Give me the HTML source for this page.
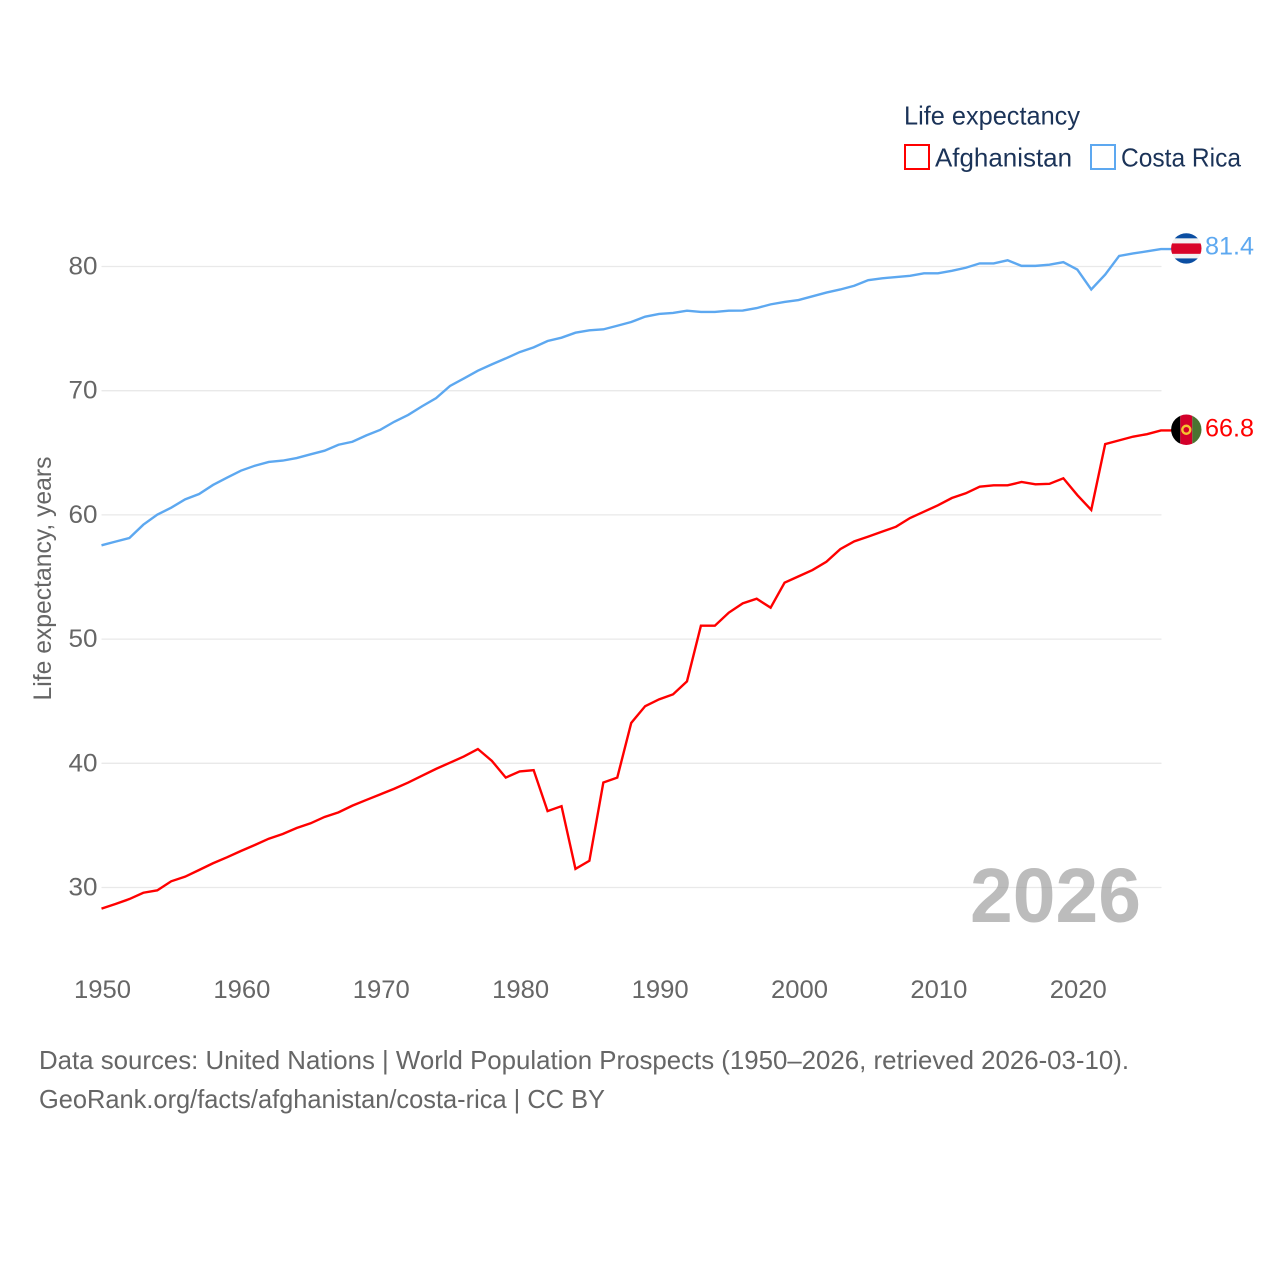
<!DOCTYPE html>
<html lang="en">
<head>
<meta charset="utf-8">
<title>Life expectancy: Afghanistan and Costa Rica</title>
<style>
html,body{margin:0;padding:0;background:#fff;}
svg{display:block;}
text{font-family:"Liberation Sans",sans-serif;}
</style>
</head>
<body>
<svg id="chart" xmlns="http://www.w3.org/2000/svg" width="1280" height="1280" viewBox="0 0 1280 1280">
  <rect x="0" y="0" width="1280" height="1280" fill="#ffffff"/>
  <defs>
    <clipPath id="flag-clip"><circle cx="0" cy="0" r="15.2"/></clipPath>
  </defs>
  <g id="grid"></g>
  <g id="yticks"></g>
  <g id="xticks"></g>
  <text transform="translate(51,578.5) rotate(-90)" text-anchor="middle" font-size="25" fill="#666666" textLength="244" lengthAdjust="spacingAndGlyphs">Life expectancy, years</text>
  <text x="970" y="922" font-size="77" font-weight="700" fill="#999999" opacity="0.65" textLength="171" lengthAdjust="spacingAndGlyphs">2026</text>
  <g id="series"></g>
  <g>
    <text x="904" y="124.5" font-size="26" fill="#1b3358" textLength="176" lengthAdjust="spacingAndGlyphs">Life expectancy</text>
    <rect x="905" y="145" width="24" height="24" fill="none" stroke="#ff0000" stroke-width="2"/>
    <text x="935" y="166.5" font-size="26" fill="#1b3358" textLength="137" lengthAdjust="spacingAndGlyphs">Afghanistan</text>
    <rect x="1091" y="145" width="24" height="24" fill="none" stroke="#5da8f0" stroke-width="2"/>
    <text x="1121" y="166.5" font-size="26" fill="#1b3358" textLength="120" lengthAdjust="spacingAndGlyphs">Costa Rica</text>
  </g>
  <g>
    <text x="39" y="1069" font-size="26" fill="#666666" textLength="1090" lengthAdjust="spacingAndGlyphs">Data sources: United Nations | World Population Prospects (1950–2026, retrieved 2026-03-10).</text>
    <text x="39" y="1108" font-size="26" fill="#666666" textLength="566" lengthAdjust="spacingAndGlyphs">GeoRank.org/facts/afghanistan/costa-rica | CC BY</text>
  </g>
</svg>
<script>
const firstYear = 1950;
const lastYear = 2026;
const xTickLabels = [1950, 1960, 1970, 1980, 1990, 2000, 2010, 2020];
const yTickLabels = [30, 40, 50, 60, 70, 80];
const afghanistanValues = [
  28.3,28.67,29.07,29.58,29.77,30.5,30.87,31.41,31.95,32.43,
  32.94,33.42,33.93,34.31,34.79,35.17,35.68,36.05,36.59,37.05,
  37.5,37.95,38.45,39.0,39.55,40.05,40.55,41.15,40.2,38.85,
  39.35,39.45,36.15,36.55,31.5,32.15,38.45,38.85,43.25,44.6,
  45.15,45.55,46.6,51.08,51.08,52.13,52.88,53.25,52.53,54.54,
  55.05,55.56,56.23,57.25,57.87,58.25,58.65,59.05,59.75,60.26,
  60.77,61.36,61.74,62.27,62.38,62.38,62.65,62.46,62.5,62.95,
  61.6,60.4,65.7,66.0,66.3,66.5,66.8
];
const costaRicaValues = [
  57.55,57.85,58.14,59.21,60.02,60.58,61.25,61.68,62.41,63.0,
  63.56,63.96,64.26,64.37,64.58,64.88,65.17,65.65,65.89,66.4,
  66.85,67.5,68.05,68.75,69.4,70.38,70.99,71.61,72.12,72.6,
  73.11,73.49,74.0,74.27,74.67,74.86,74.94,75.23,75.53,75.96,
  76.18,76.26,76.44,76.34,76.34,76.44,76.45,76.65,76.95,77.15,
  77.3,77.6,77.9,78.15,78.45,78.9,79.05,79.15,79.25,79.45,
  79.45,79.65,79.9,80.25,80.25,80.5,80.05,80.05,80.15,80.35,
  79.75,78.15,79.35,80.85,81.05,81.22,81.4
];

const NS = 'http://www.w3.org/2000/svg';
function xScale(year) { return 101.5 + (year - firstYear) * 13.94; }
function yScale(value) { return 887.5 - (value - 30) * 12.42; }
function make(tag, attrs, parent) {
  const el = document.createElementNS(NS, tag);
  for (const k in attrs) el.setAttribute(k, attrs[k]);
  parent.appendChild(el);
  return el;
}
const gridGroup = document.getElementById('grid');
const yTickGroup = document.getElementById('yticks');
const xTickGroup = document.getElementById('xticks');
const seriesGroup = document.getElementById('series');

yTickLabels.forEach(function (tick) {
  const line = make('line', {x1: 101.5, x2: 1161.5, y1: yScale(tick), y2: yScale(tick), stroke: '#e9e9e9', 'stroke-width': 1.3}, gridGroup);
  
  
  const label = make('text', {x: 97.5, y: yScale(tick) + 8, 'text-anchor': 'end', 'font-size': 25, fill: '#666666', textLength: 29, lengthAdjust: 'spacingAndGlyphs'}, yTickGroup);
  
  
  label.textContent = tick;
});

xTickLabels.forEach(function (tick) {
  const label = make('text', {x: xScale(tick) + 1, y: 998, 'text-anchor': 'middle', 'font-size': 25, fill: '#666666', textLength: 57, lengthAdjust: 'spacingAndGlyphs'}, xTickGroup);
  
  
  label.textContent = tick;
});

function drawSeries(values, color) {
  const pts = values.map(function (v, i) { return xScale(firstYear + i).toFixed(2) + ',' + yScale(v).toFixed(2); });
  const endY = yScale(values[values.length - 1]);
  pts.push('1172,' + endY.toFixed(2));
  const path = make('polyline', {points: pts.join(' '), fill: 'none', stroke: color, 'stroke-width': 2.4, 'stroke-linejoin': 'miter'}, seriesGroup);
  return path;
}

function drawStripes(group, stripes, horizontal) {
  stripes.forEach(function (s) {
    const a = horizontal
      ? {x: -16, y: s[0], width: 32, height: s[1], fill: s[2]}
      : {x: s[0], y: -16, width: s[1], height: 32, fill: s[2]};
    make('rect', a, group);
  });
}

const afghanLine = drawSeries(afghanistanValues, '#ff0000');


const costaLine = drawSeries(costaRicaValues, '#5da8f0');



const afghanEnd = afghanistanValues[afghanistanValues.length - 1];
const costaEnd = costaRicaValues[costaRicaValues.length - 1];

const crFlag = make('g', {transform: 'translate(1186.3,' + (yScale(costaEnd) - 0.7).toFixed(2) + ')', 'clip-path': 'url(#flag-clip)'}, seriesGroup);


drawStripes(crFlag, [[-16,6,'#0b4ea2'],[-10,5,'#f2f2f2'],[-5,10.5,'#d90429'],[5.5,4.5,'#f2f2f2'],[10,6,'#0b4ea2']], true);

const afFlag = make('g', {transform: 'translate(1186.3,' + (yScale(afghanEnd) - 0.7).toFixed(2) + ')', 'clip-path': 'url(#flag-clip)'}, seriesGroup);


drawStripes(afFlag, [[-16,10,'#000000'],[-6,12,'#d3002a'],[6,10,'#4a7431']], false);
make('circle', {cx: 0, cy: 0, r: 4, fill: 'none', stroke: '#f4c430', 'stroke-width': 2.4}, afFlag);

const crLabel = make('text', {x: 1205, y: yScale(costaEnd) + 5.2, 'font-size': 25, fill: '#5da8f0', textLength: 49, lengthAdjust: 'spacingAndGlyphs'}, seriesGroup);


crLabel.textContent = costaEnd.toFixed(1);

const afLabel = make('text', {x: 1205, y: yScale(afghanEnd) + 6, 'font-size': 25, fill: '#ff0000', textLength: 49, lengthAdjust: 'spacingAndGlyphs'}, seriesGroup);


afLabel.textContent = afghanEnd.toFixed(1);
</script>
</body>
</html>
